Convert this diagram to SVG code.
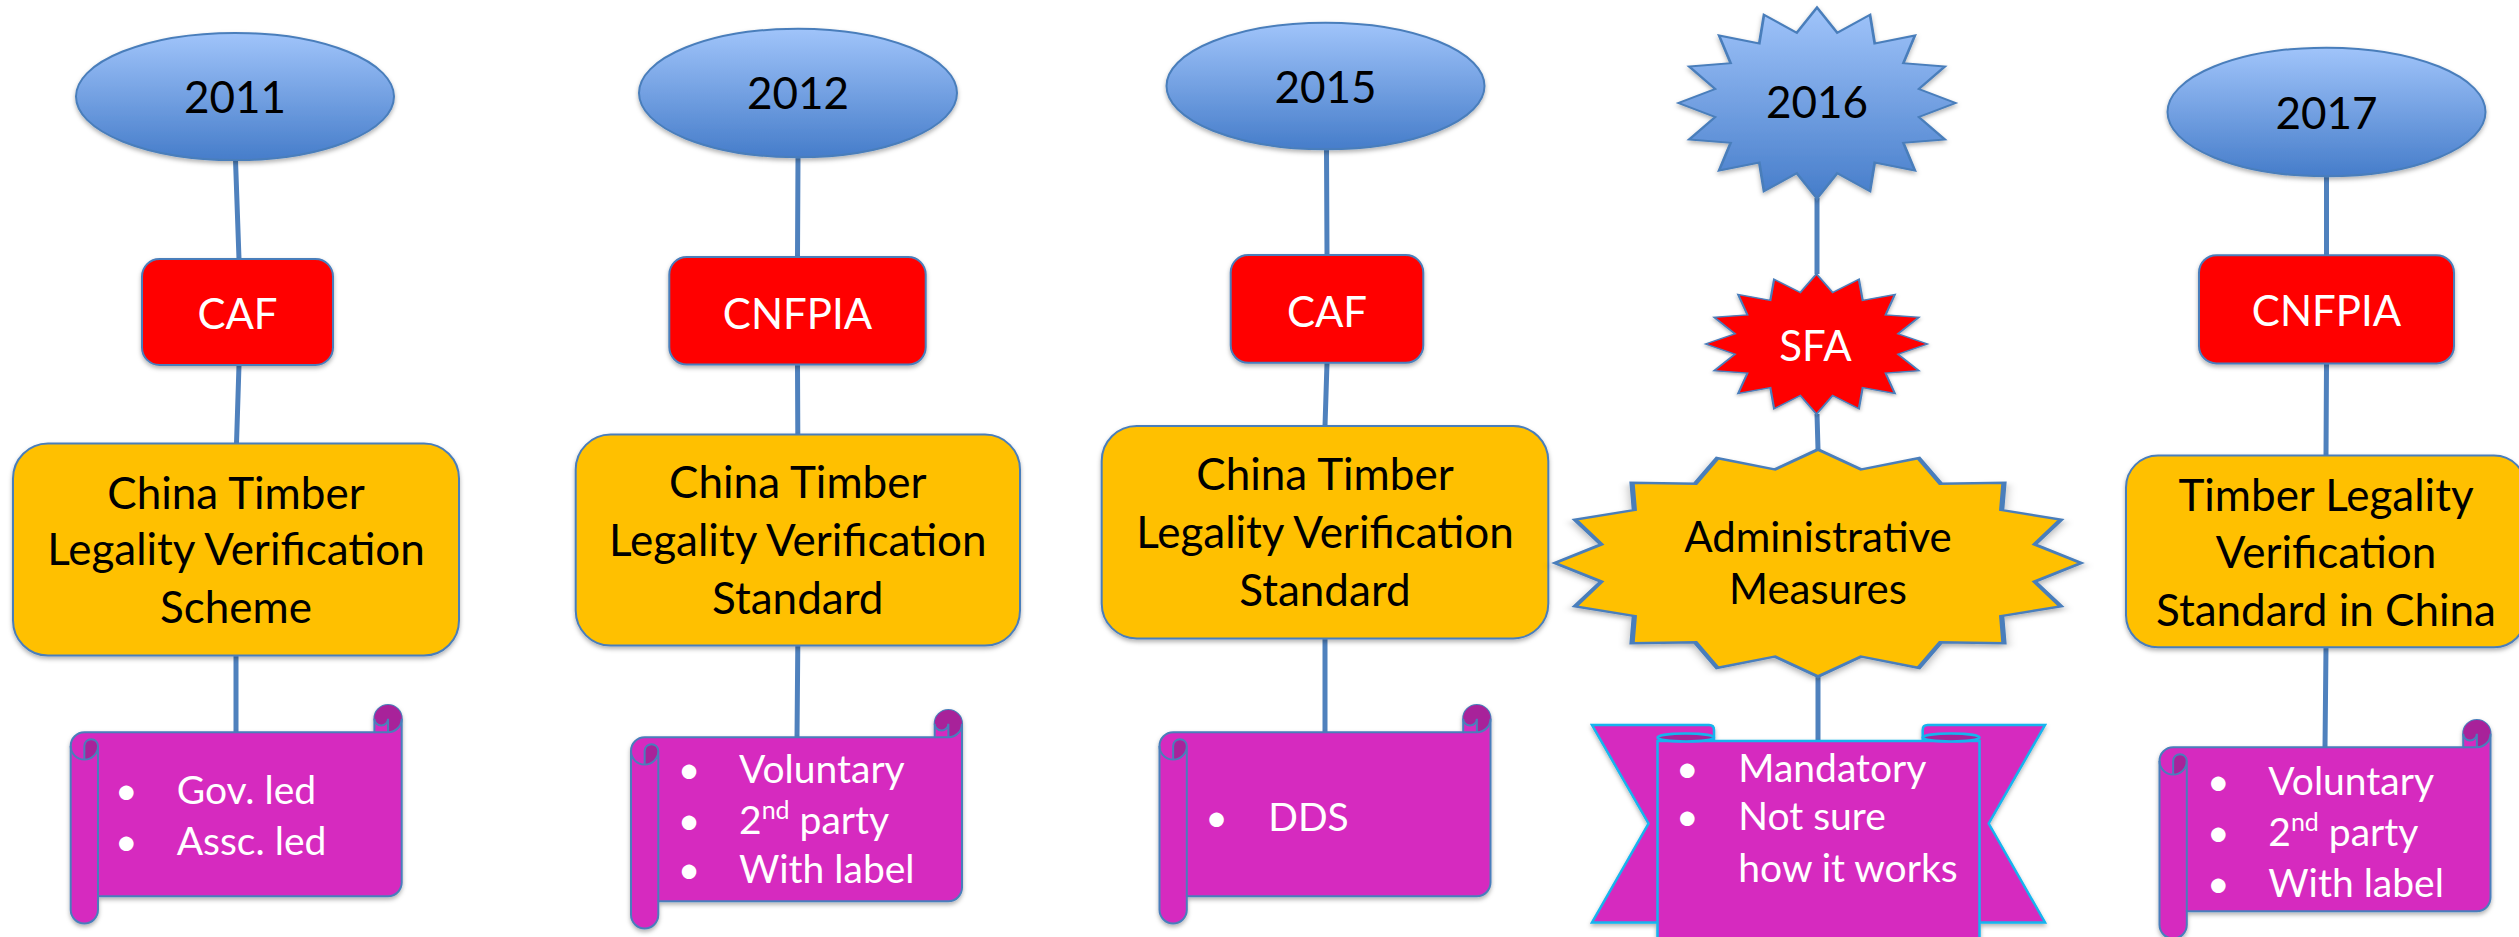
<svg xmlns="http://www.w3.org/2000/svg" xmlns:xlink="http://www.w3.org/1999/xlink" width="2519" height="937" viewBox="0 0 2519 937">
<defs>
  <linearGradient id="blueGrad" x1="0" y1="0" x2="0" y2="1">
    <stop offset="0" stop-color="#A0C4FA"/>
    <stop offset="1" stop-color="#467DCA"/>
  </linearGradient>
  <filter id="sh" x="-10%" y="-10%" width="120%" height="130%">
    <feDropShadow dx="0" dy="2.5" stdDeviation="2" flood-color="#000" flood-opacity="0.3"/>
  </filter>
  <g id="scroll">
    <path class="scrollBody" d="M0,40.95 A13.65,13.65 0 0 1 13.65,27.3 L303.7,27.3 L303.7,13.65 A13.65,13.65 0 0 1 331,13.65 L331,177.55 A13.65,13.65 0 0 1 317.35,191.2 L27.3,191.2 L27.3,204.85 A13.65,13.65 0 0 1 0,204.85 Z"/>
    <path class="scrollDark" d="M13.65,54.6 A13.65,13.65 0 0 0 27.3,40.95 A6.825,6.825 0 0 0 13.65,40.95 Z M317.35,27.3 A13.65,13.65 0 1 0 303.7,13.65 A6.825,6.825 0 0 0 317.35,13.65 Z"/>
    <path class="scrollLine" d="M303.7,27.3 L317.35,27.3 A13.65,13.65 0 0 0 331,13.65 M317.35,27.3 L317.35,13.65 A6.825,6.825 0 0 1 303.7,13.65 M13.65,54.6 L13.65,40.95 A6.825,6.825 0 0 1 27.3,40.95 A13.65,13.65 0 0 1 0,40.95 M27.3,40.95 L27.3,191.2"/>
  </g>
  <polygon id="star16" points="0,-100 14.63,-73.56 38.27,-92.39 41.67,-62.36 70.71,-70.71 62.36,-41.67 92.39,-38.27 73.56,-14.63 100,0 73.56,14.63 92.39,38.27 62.36,41.67 70.71,70.71 41.67,62.36 38.27,92.39 14.63,73.56 0,100 -14.63,73.56 -38.27,92.39 -41.67,62.36 -70.71,70.71 -62.36,41.67 -92.39,38.27 -73.56,14.63 -100,0 -73.56,-14.63 -92.39,-38.27 -62.36,-41.67 -70.71,-70.71 -41.67,-62.36 -38.27,-92.39 -14.63,-73.56"/>
  <polygon id="star16b" points="0,-100 16.39,-82.39 38.27,-92.39 46.67,-69.84 70.71,-70.71 69.84,-46.67 92.39,-38.27 82.39,-16.39 100,0 82.39,16.39 92.39,38.27 69.84,46.67 70.71,70.71 46.67,69.84 38.27,92.39 16.39,82.39 0,100 -16.39,82.39 -38.27,92.39 -46.67,69.84 -70.71,70.71 -69.84,46.67 -92.39,38.27 -82.39,16.39 -100,0 -82.39,-16.39 -92.39,-38.27 -69.84,-46.67 -70.71,-70.71 -46.67,-69.84 -38.27,-92.39 -16.39,-82.39"/>
</defs>
<style>
  .conn { stroke:#4F81BD; stroke-width:5; fill:none; }
  .year { fill:url(#blueGrad); stroke:#4A7EBB; stroke-width:2; }
  .red { fill:#FF0000; stroke:#4A7EBB; stroke-width:2; }
  .yel { fill:#FFC000; stroke:#4A7EBB; stroke-width:2; }
  .scrollBody { fill:#D62ABF; stroke:#4A7EBB; stroke-width:2; }
  .scrollDark { fill:#A8229A; stroke:none; }
  .scrollLine { fill:none; stroke:#4A7EBB; stroke-width:2; }
  .rib { fill:#D62ABF; stroke:#14B4EE; stroke-width:2.5; }
  .ribDark { fill:#A8229A; stroke:#14B4EE; stroke-width:2.5; }
  .nss { vector-effect:non-scaling-stroke; }
  text { font-family:Lato, "Liberation Sans", sans-serif; }
  .tyear { font-size:44px; fill:#000; text-anchor:middle; }
  .tred { font-size:42px; fill:#FFF; text-anchor:middle; }
  .tyel { font-size:44px; fill:#000; text-anchor:middle; }
  .tadm { font-size:42px; fill:#000; text-anchor:middle; }
  .tw { font-size:39px; fill:#FFF; }
  .sup { font-size:25px; }
</style>
<rect width="2519" height="937" fill="#FFFFFF"/>

<g id="connectors">
  <path class="conn" d="M235.5,160 L239,259 M239,365 L236.5,443.5 M236,656 L236,733"/>
  <path class="conn" d="M798,157 L797.5,257 M797.5,364.6 L797.8,434.6 M797.8,645.6 L797,738"/>
  <path class="conn" d="M1326.5,149.4 L1327,255 M1327,362.8 L1325,426 M1325,638.4 L1325,732.3"/>
  <path class="conn" d="M1817,198 L1817,274 M1817,414 L1818,449 M1818,676 L1818,741"/>
  <path class="conn" d="M2326.5,176.3 L2326.5,255.2 M2326.5,363.4 L2326,455.5 M2326,647.3 L2325,747.3"/>
</g>

<!-- Column 2011 -->
<g id="year-2011">
  <ellipse class="year" cx="235" cy="96.5" rx="159" ry="63.6" filter="url(#sh)"/>
  <text class="tyear" x="235" y="112.5">2011</text>
</g>
<g id="org-caf-2011">
  <rect class="red" x="142" y="259" width="191" height="106" rx="17.5" filter="url(#sh)"/>
  <text class="tred" x="237.5" y="328.8">CAF</text>
</g>
<g id="scheme-2011">
  <rect class="yel" x="13" y="443.5" width="446" height="212" rx="35" filter="url(#sh)"/>
  <text class="tyel" x="236" y="509.3">China Timber</text>
  <text class="tyel" x="236" y="565">Legality Verification</text>
  <text class="tyel" x="236" y="623.4">Scheme</text>
</g>
<g id="notes-2011">
  <use xlink:href="#scroll" href="#scroll" transform="translate(70.7,705)" filter="url(#sh)"/>
  <text class="tw" x="115" y="804">•</text>
  <text class="tw" x="176.7" y="804">Gov. led</text>
  <text class="tw" x="115" y="854.7">•</text>
  <text class="tw" x="176.7" y="854.7">Assc. led</text>
</g>

<!-- Column 2012 -->
<g id="year-2012">
  <ellipse class="year" cx="798" cy="93" rx="159" ry="64.3" filter="url(#sh)"/>
  <text class="tyear" x="798" y="109.4">2012</text>
</g>
<g id="org-cnfpia-2012">
  <rect class="red" x="669.3" y="257" width="256.4" height="107.6" rx="17.5" filter="url(#sh)"/>
  <text class="tred" x="797.5" y="328.7">CNFPIA</text>
</g>
<g id="standard-2012">
  <rect class="yel" x="575.7" y="434.6" width="444.3" height="211" rx="35" filter="url(#sh)"/>
  <text class="tyel" x="797.8" y="497.9">China Timber</text>
  <text class="tyel" x="797.8" y="555.9">Legality Verification</text>
  <text class="tyel" x="797.8" y="613.9">Standard</text>
</g>
<g id="notes-2012">
  <use xlink:href="#scroll" href="#scroll" transform="translate(631,710)" filter="url(#sh)"/>
  <text class="tw" x="677.7" y="783">•</text>
  <text class="tw" x="739" y="783">Voluntary</text>
  <text class="tw" x="677.7" y="833.8">•</text>
  <text class="tw" x="739" y="833.8">2<tspan class="sup" dy="-15">nd</tspan><tspan dy="15"> party</tspan></text>
  <text class="tw" x="677.7" y="883.4">•</text>
  <text class="tw" x="739" y="883.4">With label</text>
</g>

<!-- Column 2015 -->
<g id="year-2015">
  <ellipse class="year" cx="1325.5" cy="86" rx="159" ry="63.3" filter="url(#sh)"/>
  <text class="tyear" x="1325.5" y="102.8">2015</text>
</g>
<g id="org-caf-2015">
  <rect class="red" x="1230.7" y="255" width="192.6" height="107.8" rx="17.5" filter="url(#sh)"/>
  <text class="tred" x="1327" y="327">CAF</text>
</g>
<g id="standard-2015">
  <rect class="yel" x="1101.7" y="426" width="446.6" height="212.4" rx="35" filter="url(#sh)"/>
  <text class="tyel" x="1325" y="490">China Timber</text>
  <text class="tyel" x="1325" y="548">Legality Verification</text>
  <text class="tyel" x="1325" y="605.5">Standard</text>
</g>
<g id="notes-2015">
  <use xlink:href="#scroll" href="#scroll" transform="translate(1159.5,705)" filter="url(#sh)"/>
  <text class="tw" x="1205.3" y="831">•</text>
  <text class="tw" x="1268.3" y="831">DDS</text>
</g>

<!-- Column 2016 -->
<g id="year-2016">
  <use xlink:href="#star16" href="#star16" class="year nss" transform="translate(1817,103) scale(1.385,0.955)" filter="url(#sh)"/>
  <text class="tyear" x="1817" y="118.3">2016</text>
</g>
<g id="org-sfa-2016">
  <use xlink:href="#star16" href="#star16" class="red nss" transform="translate(1816.5,344) scale(1.108,0.70)" filter="url(#sh)"/>
  <text class="tred" x="1815.5" y="360.7">SFA</text>
</g>
<g id="measures-2016">
  <use xlink:href="#star16b" href="#star16b" class="yel nss" transform="translate(1818,563) scale(2.63,1.135)" filter="url(#sh)"/>
  <text class="tadm" x="1818" y="551.7">Administrative</text>
  <text class="tadm" x="1818" y="604">Measures</text>
</g>
<g id="notes-2016">
  <g filter="url(#sh)">
    <path class="rib" d="M1592,725 H1709 Q1714,725 1714,730 V922.5 H1592 L1648.5,823.5 Z"/>
    <path class="rib" d="M2045,725 H1927.7 Q1922.7,725 1922.7,730 V922.5 H2045 L1988.7,823.5 Z"/>
    <path class="rib" d="M1657.5,950 V741 H1979.5 V950"/>
    <ellipse class="ribDark" cx="1685.75" cy="737.5" rx="28.25" ry="4"/>
    <ellipse class="ribDark" cx="1951.1" cy="737.5" rx="28.4" ry="4"/>
  </g>
  <text class="tw" x="1676" y="781.7">•</text>
  <text class="tw" x="1738.3" y="781.7">Mandatory</text>
  <text class="tw" x="1676" y="830">•</text>
  <text class="tw" x="1738.3" y="830">Not sure</text>
  <text class="tw" x="1738.3" y="881.7">how it works</text>
</g>

<!-- Column 2017 -->
<g id="year-2017">
  <ellipse class="year" cx="2326.5" cy="112" rx="159" ry="64.3" filter="url(#sh)"/>
  <text class="tyear" x="2326.5" y="128.5">2017</text>
</g>
<g id="org-cnfpia-2017">
  <rect class="red" x="2199" y="255.2" width="255" height="108.2" rx="17.5" filter="url(#sh)"/>
  <text class="tred" x="2326.5" y="325.8">CNFPIA</text>
</g>
<g id="standard-2017">
  <rect class="yel" x="2126" y="455.5" width="400" height="191.8" rx="32" filter="url(#sh)"/>
  <text class="tyel" x="2326" y="511">Timber Legality</text>
  <text class="tyel" x="2326" y="567.8">Verification</text>
  <text class="tyel" x="2326" y="625.8">Standard in China</text>
</g>
<g id="notes-2017">
  <use xlink:href="#scroll" href="#scroll" transform="translate(2159.5,720)" filter="url(#sh)"/>
  <text class="tw" x="2207" y="795">•</text>
  <text class="tw" x="2268.3" y="795">Voluntary</text>
  <text class="tw" x="2207" y="845.8">•</text>
  <text class="tw" x="2268.3" y="845.8">2<tspan class="sup" dy="-15">nd</tspan><tspan dy="15"> party</tspan></text>
  <text class="tw" x="2207" y="896.6">•</text>
  <text class="tw" x="2268.3" y="896.6">With label</text>
</g>
</svg>
